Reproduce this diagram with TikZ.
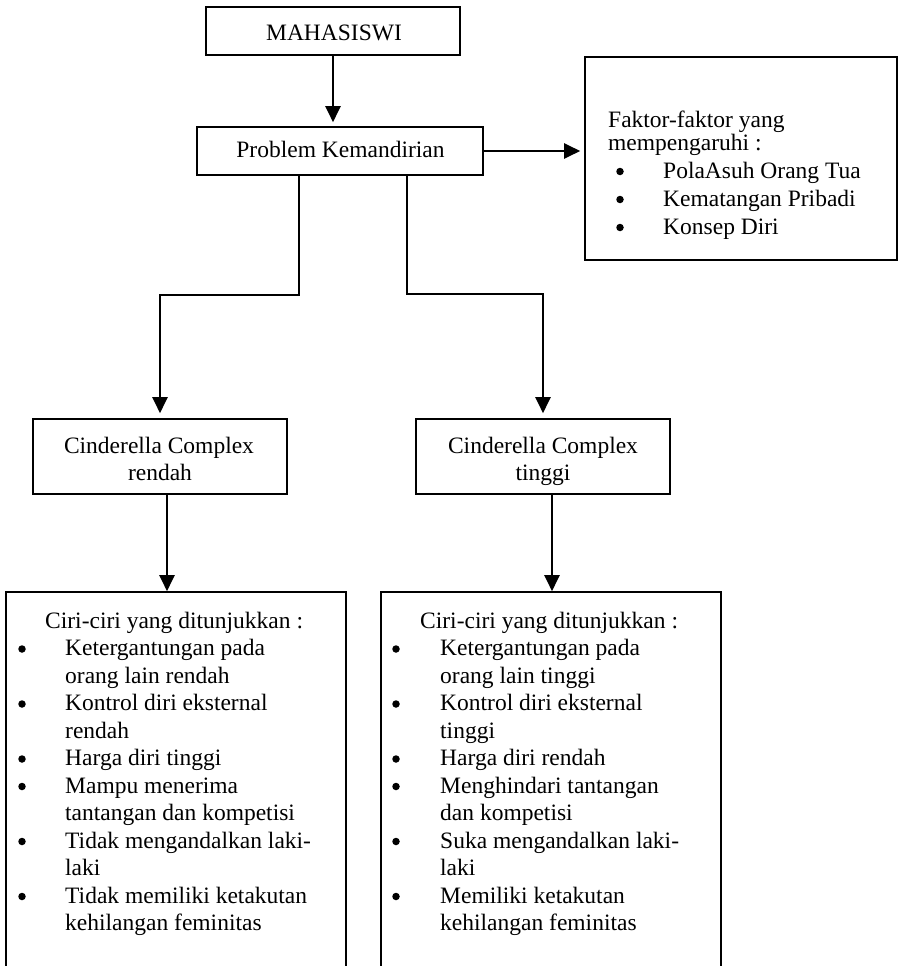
\documentclass[tikz,border=0pt]{standalone}
\usepackage{fontspec}
\setmainfont{Liberation Serif}
\usetikzlibrary{arrows.meta}
\begin{document}
\begin{tikzpicture}[x=1pt,y=-1pt,
  box/.style={draw, line width=1.6pt, inner sep=0pt},
  conn/.style={line width=2.1pt, -{Triangle[length=16pt,width=15pt]}},
  txt/.style={inner sep=0pt, font=\fontsize{23.5}{28}\selectfont},
  lt/.style={txt, anchor=base west},
  cen/.style={txt, anchor=base},
  bul/.style={circle, fill=black, inner sep=0pt, minimum size=7.5pt, yshift=6.5pt}]
\useasboundingbox (0,0) rectangle (899,966);
\clip (0,0) rectangle (899,966);

% boxes
\node[box, minimum width=254pt, minimum height=48pt] (mah) at (333,31) {};
\node[box, minimum width=286pt, minimum height=48pt] (prob) at (340,151) {};
\node[box, minimum width=312pt, minimum height=203pt] (fak) at (741,158.5) {};
\node[box, minimum width=254pt, minimum height=75pt] (cr) at (160,456.5) {};
\node[box, minimum width=254pt, minimum height=75pt] (ctg) at (543,456.5) {};
\node[box, minimum width=340pt, minimum height=420pt] (bl) at (176,802) {};
\node[box, minimum width=340pt, minimum height=420pt] (br) at (551,802) {};

% connectors
\draw[conn, shorten >=4pt] (mah.south) -- (mah.south |- prob.north);
\draw[conn, shorten >=4pt] (prob.east) -- (prob.east -| fak.west);
\draw[conn, shorten >=5pt] ([xshift=-41pt]prob.south) -- ++(0,119) -| (cr.north);
\draw[conn, shorten >=5pt] ([xshift=67pt]prob.south) -- ++(0,118) -| (ctg.north);
\draw[conn] ([xshift=7pt]cr.south) -- ([xshift=7pt]cr.south |- bl.north);
\draw[conn] ([xshift=9pt]ctg.south) -- ([xshift=9pt]ctg.south |- br.north);

% texts top
\node[cen] (tmah) at (334,41) {MAHASISWI};
\node[cen] (tprob) at (340.5,157) {Problem Kemandirian};
\node[lt] (f1) at (608,127) {Faktor-faktor yang};
\node[lt] (f2) at (608,150) {mempengaruhi :};
\node[lt] (f3) at (663,178) {PolaAsuh Orang Tua};
\node[lt] (f4) at (663,206) {Kematangan Pribadi};
\node[lt] (f5) at (663,234) {Konsep Diri};
\foreach \yy [count=\i] in {178,206,234} \node[bul] (fb\i) at (620,\yy) {};

\node[cen] (cr1) at (159,453) {Cinderella Complex};
\node[cen] (cr2) at (160,480) {rendah};
\node[cen] (ct1) at (543,453) {Cinderella Complex};
\node[cen] (ct2) at (543,480) {tinggi};

% bottom left
\node[lt] (lh) at (45,628) {Ciri-ciri yang ditunjukkan :};
\foreach \t [count=\i] in {Ketergantungan pada, orang lain rendah, Kontrol diri eksternal, rendah, Harga diri tinggi, Mampu menerima, tantangan dan kompetisi, Tidak mengandalkan laki-, laki, Tidak memiliki ketakutan, kehilangan feminitas}
  \node[lt] (l\i) at (65,{628+27.5*\i}) {\t};
% bottom right
\node[lt] (rh) at (420,628) {Ciri-ciri yang ditunjukkan :};
\foreach \t [count=\i] in {Ketergantungan pada, orang lain tinggi, Kontrol diri eksternal, tinggi, Harga diri rendah, Menghindari tantangan, dan kompetisi, Suka mengandalkan laki-, laki, Memiliki ketakutan, kehilangan feminitas}
  \node[lt] (r\i) at (440,{628+27.5*\i}) {\t};
% bullets
\foreach \k in {1,3,5,6,8,10} {
  \node[bul] (lb\k) at (22,{628+27.5*\k}) {};
  \node[bul] (rb\k) at (396,{628+27.5*\k}) {};
}
\end{tikzpicture}
\end{document}
